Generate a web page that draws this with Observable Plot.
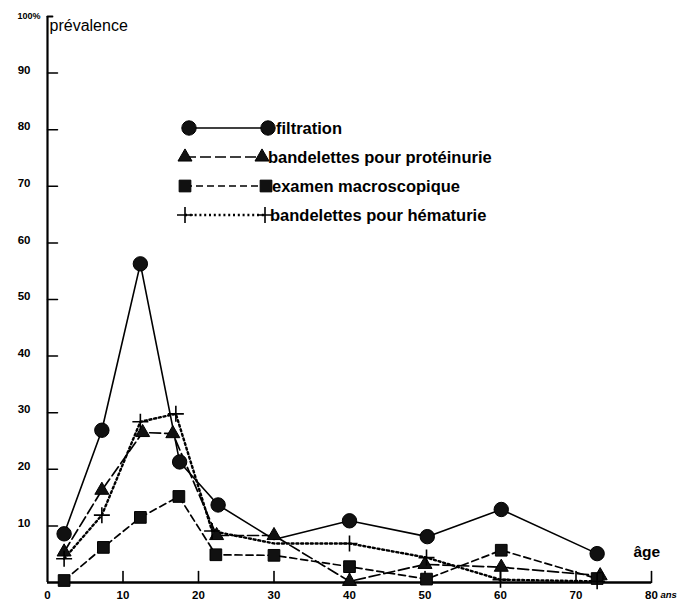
<!DOCTYPE html>
<html>
<head>
<meta charset="utf-8">
<script src="https://cdn.jsdelivr.net/npm/d3@7"></script>
<script src="https://cdn.jsdelivr.net/npm/@observablehq/plot@0.6"></script>
<style>
  html, body { margin: 0; padding: 0; background: #fff; }
  #wrap { position: relative; width: 687px; height: 604px; }
  #legend { position: absolute; left: 0; top: 0; pointer-events: none; }
</style>
</head>
<body>
<div id="wrap"></div>
<script>
// ---- data ----
const seriesNames = ["filtration", "bandelettes pour protéinurie", "examen macroscopique", "bandelettes pour hématurie"];

const filtrationAge = [2.2, 7.2, 12.3, 17.5, 22.6, 30, 40, 50.3, 60.1, 72.8];
const filtrationVal = [8.6, 26.9, 56.3, 21.3, 13.7, 7.6, 10.9, 8.1, 12.9, 5.1];
const filtrationMarked = [true, true, true, true, true, false, true, true, true, true];

const proteinurieAge = [2.2, 7.2, 12.6, 16.6, 22.4, 30, 40, 50, 60.1, 73.2];
const proteinurieVal = [5.4, 16.3, 26.5, 26.3, 8.3, 8.3, 0.2, 3.2, 2.7, 1.2];

const macroAge = [2.2, 7.4, 12.3, 17.4, 22.3, 30, 40, 50.2, 60.1, 72.8];
const macroVal = [0.35, 6.2, 11.5, 15.2, 4.9, 4.8, 2.8, 0.6, 5.7, 0.7];

const hematurieAge = [2.2, 7.2, 12.3, 17.0, 21.8, 30, 40, 50.2, 60, 72.8];
const hematurieVal = [4.2, 11.9, 28.4, 29.8, 9.1, 6.9, 6.9, 4.4, 0.5, 0.2];
const hematurieMarked = [true, true, true, true, true, false, true, true, true, true];

const yTickValues = [10, 20, 30, 40, 50, 60, 70, 80, 90];
const xTickValues = [0, 10, 20, 30, 40, 50, 60, 70, 80];
const xTickMarks = [10, 20, 30, 40, 50, 60, 70, 80];

// ---- build tables ----
function rowsOf(name, ages, vals, marked) {
  return ages.map((a, i) => ({ serie: name, age: a, value: vals[i], marked: marked ? marked[i] : true }));
}
const filtration = rowsOf(seriesNames[0], filtrationAge, filtrationVal, filtrationMarked);
const proteinurie = rowsOf(seriesNames[1], proteinurieAge, proteinurieVal);
const macro = rowsOf(seriesNames[2], macroAge, macroVal);
const hematurie = rowsOf(seriesNames[3], hematurieAge, hematurieVal, hematurieMarked);

// thin plus symbol: half-length = r
const thinPlus = {
  draw(context, size) {
    const r = Math.sqrt(size / Math.PI);
    context.moveTo(-r, 0); context.lineTo(r, 0);
    context.moveTo(0, -r); context.lineTo(0, r);
  }
};

const styles = [
  { data: filtration, dash: null, width: 1.6, symbol: "circle", r: 7.2 },
  { data: proteinurie, dash: "11,4", width: 1.7, symbol: "triangle", r: 5.2 },
  { data: macro, dash: "7,4", width: 1.7, symbol: "square", r: 6.6 },
  { data: hematurie, dash: "2,2.8", width: 2.4, symbol: "plus", r: 8 }
];

const lineShape = { draw(context, l) { context.moveTo(0, 0); context.lineTo(0, -l); } };
const FONT = "'Liberation Sans', Arial, Helvetica, sans-serif";

const marks = [
  // axes lines
  Plot.ruleX([0], { strokeWidth: 2.2, stroke: "#000" }),
  Plot.ruleY([0], { strokeWidth: 2.6, stroke: "#000" }),
  // inward tick marks
  Plot.vector(yTickValues, { x: 0, y: d => d, length: 10, rotate: 90, anchor: "start", shape: lineShape, strokeWidth: 1.5, stroke: "#000" }),
  Plot.vector([100], { x: 0, y: d => d, length: 5, rotate: 90, anchor: "start", shape: lineShape, strokeWidth: 1.8, stroke: "#000" }),
  Plot.vector(xTickMarks, { x: d => d, y: 0, length: 11, rotate: 0, anchor: "start", shape: lineShape, strokeWidth: 1.6, stroke: "#000" }),
  // tick labels
  Plot.axisY({ ticks: yTickValues, tickSize: 0, tickPadding: 17, dy: -3, fontSize: 11.5, fontWeight: "bold", label: null }),
  Plot.axisX({ ticks: xTickValues, tickSize: 0, tickPadding: 8, fontSize: 11.5, fontWeight: "bold", label: null }),
  // texts
  Plot.text(["100%"], { frameAnchor: "top-left", dx: -7, dy: -3.5, textAnchor: "end", fontSize: 9, fontWeight: "bold" }),
  Plot.text(["prévalence"], { frameAnchor: "top-left", dx: 2, dy: 3.5, textAnchor: "start", fontSize: 16 }),
  Plot.text(["âge"], { frameAnchor: "bottom-right", dx: -18, dy: -26, textAnchor: "start", fontSize: 15.5, fontWeight: "bold" }),
  Plot.text(["ans"], { frameAnchor: "bottom-right", dx: 9, dy: 15, textAnchor: "start", fontSize: 9.5, fontWeight: "bold", fontStyle: "italic" })
];

for (const s of styles) {
  marks.push(Plot.line(s.data, { x: "age", y: "value", stroke: "#000", strokeWidth: s.width, strokeDasharray: s.dash }));
}
for (const s of styles) {
  const pts = s.data.filter(d => d.marked);
  if (s.symbol === "plus") {
    marks.push(Plot.dot(pts, { x: "age", y: "value", symbol: thinPlus, r: s.r, stroke: "#000", strokeWidth: 1.6, fill: "none" }));
  } else {
    marks.push(Plot.dot(pts, { x: "age", y: "value", symbol: s.symbol, r: s.r, fill: "#111", stroke: "#000", strokeWidth: 1 }));
  }
}

const chart = Plot.plot({
  width: 687,
  height: 604,
  marginLeft: 47,
  marginRight: 36,
  marginTop: 16,
  marginBottom: 22,
  x: { domain: [0, 80] },
  y: { domain: [0, 100] },
  style: { fontFamily: FONT, background: "#fff", color: "#000", overflow: "visible" },
  marks
});

const wrap = document.getElementById("wrap");
wrap.appendChild(chart);

// ---- legend (overlay) ----
const legendRows = [
  { y: 128, xl: 189, xr: 268, tx: 276 },
  { y: 157, xl: 185, xr: 262, tx: 268 },
  { y: 186, xl: 185, xr: 266, tx: 272 },
  { y: 215, xl: 185, xr: 265, tx: 270 }
];
const svg = d3.select(wrap).append("svg")
  .attr("id", "legend").attr("width", 687).attr("height", 604)
  .style("font-family", FONT);
const symMap = { circle: d3.symbolCircle, triangle: d3.symbolTriangle, square: d3.symbolSquare, plus: thinPlus };
styles.forEach((s, i) => {
  const r = legendRows[i];
  svg.append("line").attr("x1", r.xl).attr("x2", r.xr).attr("y1", r.y).attr("y2", r.y)
    .attr("stroke", "#000").attr("stroke-width", s.width).attr("stroke-dasharray", s.dash);
  for (const x of [r.xl, r.xr]) {
    const path = d3.symbol(symMap[s.symbol], s.r * s.r * Math.PI)();
    const p = svg.append("path").attr("d", path).attr("transform", `translate(${x},${r.y})`);
    if (s.symbol === "plus") p.attr("fill", "none").attr("stroke", "#000").attr("stroke-width", 1.6);
    else p.attr("fill", "#111").attr("stroke", "#000");
  }
  svg.append("text").attr("x", r.tx).attr("y", r.y + 5.5).attr("font-size", 16.5).attr("font-weight", "bold")
    .text(seriesNames[i]);
});
</script>
</body>
</html>
